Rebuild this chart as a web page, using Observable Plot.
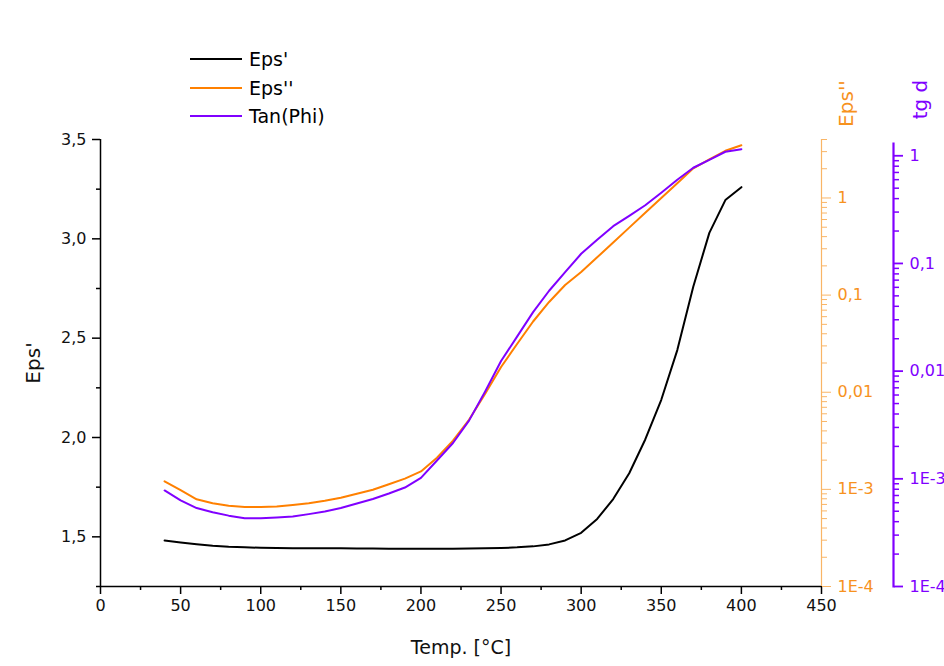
<!DOCTYPE html>
<html>
<head>
<meta charset="utf-8">
<script src="https://cdn.jsdelivr.net/npm/d3@7"></script>
<script src="https://cdn.jsdelivr.net/npm/@observablehq/plot@0.6"></script>
<style>
  body { margin: 0; background: #fff; font-family: "DejaVu Sans", "Liberation Sans", Arial, sans-serif; }
  #wrap { position: relative; width: 944px; height: 666px; overflow: hidden; background: #fff; }
  #wrap svg { position: absolute; left: 0; top: 0; }
  #legend { position: absolute; left: 190px; top: 45px; font-size: 19px; color: #000; }
  .item { display: flex; align-items: center; height: 28.5px; }
  .swatch { width: 52px; height: 0; border-top: 2.5px solid; margin-right: 7px; }
</style>
</head>
<body>
<div id="wrap"><div id="legend"></div></div>
<script>
// ---------- data ----------
const temps = [40,50,60,70,80,90,100,110,120,130,140,150,160,170,180,190,200,210,220,230,240,250,260,270,280,290,300,310,320,330,340,350,360,370,380,390,400];
const epsReal = [1.482,1.472,1.463,1.455,1.450,1.447,1.445,1.444,1.443,1.443,1.442,1.442,1.441,1.441,1.440,1.440,1.440,1.440,1.440,1.441,1.442,1.444,1.447,1.452,1.462,1.482,1.520,1.590,1.690,1.820,1.990,2.190,2.440,2.760,3.030,3.195,3.260];
const epsImag = [1.21e-3,9.8e-4,7.9e-4,7.2e-4,6.8e-4,6.6e-4,6.6e-4,6.65e-4,6.9e-4,7.2e-4,7.65e-4,8.2e-4,9.0e-4,9.9e-4,1.13e-3,1.29e-3,1.53e-3,2.12e-3,3.17e-3,5.2e-3,9.6e-3,0.0182,0.0314,0.0535,0.085,0.127,0.173,0.245,0.348,0.495,0.703,1.0,1.42,2.02,2.5,3.06,3.49];
const tanPhi = [7.8e-4,6.3e-4,5.35e-4,4.9e-4,4.55e-4,4.3e-4,4.3e-4,4.37e-4,4.46e-4,4.7e-4,4.97e-4,5.35e-4,5.9e-4,6.5e-4,7.3e-4,8.3e-4,1.02e-3,1.48e-3,2.15e-3,3.47e-3,6.45e-3,0.0124,0.0209,0.0353,0.0558,0.083,0.123,0.166,0.222,0.277,0.347,0.454,0.599,0.774,0.918,1.09,1.15];

const seriesNames = ["Eps'", "Eps''", "Tan(Phi)"];
const xTicks = [0,50,100,150,200,250,300,350,400,450];
const xMinor = [25,75,125,175,225,275,325,375,425];
const yTicks = [1.5,2.0,2.5,3.0,3.5];
const yMinor = [1.25,1.75,2.25,2.75,3.25];
const logTicks = [1e-4,1e-3,0.01,0.1,1];
const logTickLabels = ["1E-4","1E-3","0,01","0,1","1"];
const minorMult = [2,3,4,5,6,7,8,9];
const epsImagMinor = [1e-4,1e-3,0.01,0.1].flatMap(d => minorMult.map(m => m * d)).concat([2,3,4]);
const tanMinor = [1e-4,1e-3,0.01,0.1].flatMap(d => minorMult.map(m => m * d));

// ---------- style ----------
const W = 944, H = 666;
const FONT = "DejaVu Sans, Liberation Sans, Arial, sans-serif";
const BLACK = "#000";
const ORANGE = "#ff8000";
const ORANGE_AX = "#f9b566";
const ORANGE_TXT = "#f7921e";
const PURPLE = "#8000ff";

const rows = temps.map((t, i) => ({t, er: epsReal[i], ei: epsImag[i], tp: tanPhi[i]}));
const comma = d => d.toFixed(1).replace(".", ",");
const logFmt = d => logTickLabels[logTicks.indexOf(d)] ?? "";
const blank = () => "";
const centered = {textAnchor: "middle", lineAnchor: "middle"};

const base = {
  width: W, height: H,
  marginLeft: 100, marginTop: 139, marginBottom: 80, marginRight: 123,
  style: {background: "transparent", fontFamily: FONT, fontSize: "16px", overflow: "visible"}
};

// main layer: x axis, left axis, Eps'
const main = Plot.plot({
  ...base,
  x: {domain: [0, 450]},
  y: {domain: [1.25, 3.5]},
  marks: [
    Plot.axisX(xMinor, {tickSize: 4, tickFormat: blank, strokeWidth: 1.5, label: null, stroke: BLACK}),
    Plot.axisX(xTicks, {tickSize: 8, tickPadding: 5, strokeWidth: 1.5, label: null, fontSize: 16, stroke: BLACK, fill: "#111"}),
    Plot.axisY(yMinor, {tickSize: 4, tickFormat: blank, strokeWidth: 1.5, label: null, stroke: BLACK}),
    Plot.axisY(yTicks, {tickSize: 8, tickPadding: 6, tickFormat: comma, strokeWidth: 1.5, label: null, fontSize: 16, stroke: BLACK, fill: "#111"}),
    Plot.ruleX([0], {stroke: BLACK, strokeWidth: 1.5}),
    Plot.ruleY([1.25], {stroke: BLACK, strokeWidth: 1.5}),
    Plot.text(["Temp. [°C]"], {text: d => d, frameAnchor: "bottom", dy: 61, fontSize: 19, fill: "#111", ...centered}),
    Plot.text(["Eps'"], {text: d => d, frameAnchor: "left", dx: -67, rotate: -90, fontSize: 20, fill: "#111", ...centered}),
    Plot.line(rows, {x: "t", y: "er", stroke: BLACK, strokeWidth: 2})
  ]
});

// orange layer: Eps'' log axis
const orange = Plot.plot({
  ...base,
  x: {domain: [0, 450], axis: null},
  y: {type: "log", domain: [1e-4, 4]},
  marks: [
    Plot.ruleX([450], {stroke: ORANGE_AX, strokeWidth: 1.2}),
    Plot.axisY(epsImagMinor, {anchor: "right", tickSize: 5, tickFormat: blank, stroke: ORANGE_AX, label: null}),
    Plot.axisY(logTicks, {anchor: "right", tickSize: 9, tickPadding: 7, tickFormat: logFmt, stroke: ORANGE_AX, fill: ORANGE_TXT, label: null, fontSize: 16}),
    Plot.text(["Eps''"], {text: d => d, frameAnchor: "top-right", dx: 25, dy: -36, rotate: -90, fontSize: 20, fill: ORANGE_TXT, ...centered}),
    Plot.line(rows, {x: "t", y: "ei", stroke: ORANGE, strokeWidth: 2})
  ]
});

// purple layer: tg d log axis
const purple = Plot.plot({
  ...base,
  marginTop: 143, marginRight: 51,
  x: {domain: [0, 450], range: [100, 821], axis: null},
  y: {type: "log", domain: [1e-4, 1.3]},
  marks: [
    Plot.frame({anchor: "right", stroke: PURPLE, strokeWidth: 2.2}),
    Plot.axisY(tanMinor, {anchor: "right", tickSize: 5, tickFormat: blank, stroke: PURPLE, strokeWidth: 1.5, label: null}),
    Plot.axisY(logTicks, {anchor: "right", tickSize: 9, tickPadding: 7, tickFormat: logFmt, stroke: PURPLE, strokeWidth: 1.8, fill: PURPLE, label: null, fontSize: 16}),
    Plot.text(["tg d"], {text: d => d, frameAnchor: "top-right", dx: 27, dy: -44, rotate: -90, fontSize: 20, fill: PURPLE, ...centered}),
    Plot.line(rows, {x: "t", y: "tp", stroke: PURPLE, strokeWidth: 2})
  ]
});

const wrap = document.getElementById("wrap");
const legEl = document.getElementById("legend");
wrap.insertBefore(main, legEl);
wrap.insertBefore(orange, legEl);
wrap.insertBefore(purple, legEl);

// legend
const legendColors = [BLACK, ORANGE, PURPLE];
seriesNames.forEach((name, i) => {
  const it = document.createElement("div");
  it.className = "item";
  const sw = document.createElement("div");
  sw.className = "swatch";
  sw.style.borderTopColor = legendColors[i];
  const tx = document.createElement("span");
  tx.textContent = name;
  it.appendChild(sw); it.appendChild(tx);
  legEl.appendChild(it);
});
</script>
</body>
</html>
